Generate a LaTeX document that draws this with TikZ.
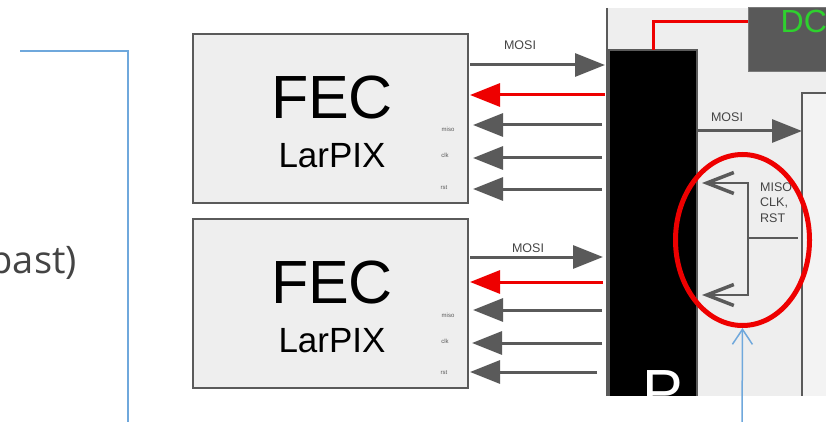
\documentclass[tikz,border=0pt]{standalone}
\usepackage{fontspec}
\setmainfont{Liberation Sans}
\newfontfamily\opensans{Open Sans}
\usetikzlibrary{arrows.meta,shapes.geometric}
\definecolor{bgrey}{HTML}{5A5A5A}
\definecolor{lgrey}{HTML}{EEEEEE}
\definecolor{rboxfill}{HTML}{F3F3F3}
\definecolor{dcfill}{HTML}{595959}
\definecolor{rred}{HTML}{EE0000}
\definecolor{lblue}{HTML}{6FA8DC}
\definecolor{dgreen}{HTML}{2ED12E}
\definecolor{tgrey}{HTML}{444444}
\begin{document}
\begin{tikzpicture}[x=1pt,y=-1pt,
 fecbox/.style={draw=bgrey, line width=2.5pt, fill=lgrey, minimum width=275pt, minimum height=169pt, inner sep=0, outer sep=0},
 bigtxt/.style={inner sep=0, font=\fontsize{61}{61}\selectfont},
 midtxt/.style={inner sep=0, font=\fontsize{35}{35}\selectfont},
 pinlbl/.style={inner sep=0, font=\fontsize{6}{6}\selectfont, text=bgrey},
 sig/.style={inner sep=0, font=\fontsize{12.5}{15}\selectfont, text=tgrey},
 garr/.style={draw=bgrey, line width=3pt, -{Triangle[length=30pt,width=23pt]}},
 rarr/.style={draw=rred, line width=3pt, -{Triangle[length=30pt,width=23pt]}},
 wire/.style={draw=bgrey, line width=2.5pt},
 barb/.style={wire, -{Straight Barb[length=27pt,width=21pt,line width=3.5pt]}},
 bluel/.style={draw=lblue, line width=1.5pt},
]
\useasboundingbox (0,0) rectangle (826,422);
\clip (0,0) rectangle (826,422);

% left blue frame and clipped text
\coordinate (bl1) at (20,51);
\coordinate (bl2) at (128,51);
\coordinate (bl3) at (128,430);
\draw[bluel] (bl1) -- (bl2) -- (bl3);
\node[anchor=base east, inner sep=0, text=tgrey, font=\opensans\fontsize{38}{38}\selectfont] (past) at (77,273) {past)};

% FEC boxes
\node[fecbox] (fec1) at (330.5,118.5) {};
\node[bigtxt] (fec1t) at (332,97.5) {FEC};
\node[midtxt] (fec1l) at (332,155.5) {LarPIX};
\node[pinlbl] (f1miso) at (448,129) {miso};
\node[pinlbl] (f1clk) at (445,155) {clk};
\node[pinlbl] (f1rst) at (444,188) {rst};

\node[fecbox] (fec2) at (330.5,303.5) {};
\node[bigtxt] (fec2t) at (332,282) {FEC};
\node[midtxt] (fec2l) at (332,340.5) {LarPIX};
\node[pinlbl] (f2miso) at (448,315) {miso};
\node[pinlbl] (f2clk) at (445,341) {clk};
\node[pinlbl] (f2rst) at (444,373) {rst};

% panel
\begin{scope}
\clip (600,0) rectangle (826,395);
\fill[lgrey] (607,8) rectangle (830,400);
\coordinate (pt) at (607,8);
\coordinate (pb) at (607,400);
\draw[wire] (pt) -- (pb);
\node[draw=dcfill!80!white, line width=1pt, fill=dcfill, minimum width=102pt, minimum height=64pt, outer sep=0, inner sep=0] (dc) at (799,40) {};
\node[anchor=base west, inner sep=0, text=dgreen, font=\fontsize{32}{32}\selectfont] (dct) at (780.5,33) {DC};
\node[draw=bgrey, line width=2.5pt, fill=rboxfill, minimum width=98pt, minimum height=327pt, outer sep=0, inner sep=0] (rbox) at (851,256.5) {};
\node[draw=bgrey, line width=2.5pt, fill=black, minimum width=88pt, minimum height=360pt, outer sep=0, inner sep=0] (ctrl) at (653,230) {};
\node[anchor=base west, inner sep=0, text=white, font=\fontsize{61}{61}\selectfont] (pl) at (642,412) {P};
\coordinate (dcl) at (748,22);
\draw[rred, line width=3pt] (ctrl.north) |- (dcl);
\end{scope}

% FEC1 signals
\coordinate (a1s) at (470,65);  \coordinate (a1e) at (605,65);
\draw[garr] (a1s) -- (a1e);
\node[sig] (mosi1) at (520,45) {MOSI};
\coordinate (r1s) at (605,95);  \coordinate (r1e) at (470,95);
\draw[rarr] (r1s) -- (r1e);
\coordinate (g1s) at (602,125); \coordinate (g1e) at (473,125);
\coordinate (g2s) at (602,158); \coordinate (g2e) at (473,158);
\coordinate (g3s) at (602,189); \coordinate (g3e) at (473,189);
\draw[garr] (g1s) -- (g1e);
\draw[garr] (g2s) -- (g2e);
\draw[garr] (g3s) -- (g3e);

% FEC2 signals
\coordinate (a2s) at (470,257);  \coordinate (a2e) at (603,257);
\draw[garr] (a2s) -- (a2e);
\node[sig] (mosi2) at (528,248) {MOSI};
\coordinate (r2s) at (603,282);  \coordinate (r2e) at (470,282);
\draw[rarr] (r2s) -- (r2e);
\coordinate (h1s) at (602,310); \coordinate (h1e) at (473,310);
\coordinate (h2s) at (602,343); \coordinate (h2e) at (472,343);
\coordinate (h3s) at (597,372); \coordinate (h3e) at (470,372);
\draw[garr] (h1s) -- (h1e);
\draw[garr] (h2s) -- (h2e);
\draw[garr] (h3s) -- (h3e);

% right side
\coordinate (m3s) at (697,131); \coordinate (m3e) at (802,131);
\draw[garr] (m3s) -- (m3e);
\node[sig] (mosi3) at (727,117) {MOSI};

\coordinate (bj) at (748,238);
\coordinate (bt) at (702,183);
\coordinate (bb) at (702,295);
\coordinate (bm) at (798,238);
\draw[barb] (bj) |- (bt);
\draw[barb] (bj) |- (bb);
\draw[wire] (bj) -- (bm);
\node[sig, anchor=west] (miso) at (760,187) {MISO};
\node[sig, anchor=west] (clk) at (760,202.5) {CLK,};
\node[sig, anchor=west] (rst) at (760,218) {RST};

\node[ellipse, draw=rred, line width=5pt, minimum width=134pt, minimum height=171pt, inner sep=0, outer sep=0] (circ) at (742.5,240) {};
\coordinate (blb) at (742,430);
\draw[bluel, -{Straight Barb[length=15pt,width=20pt]}, shorten >=2.5pt] (blb) -- (circ.south);
\end{tikzpicture}
\end{document}
